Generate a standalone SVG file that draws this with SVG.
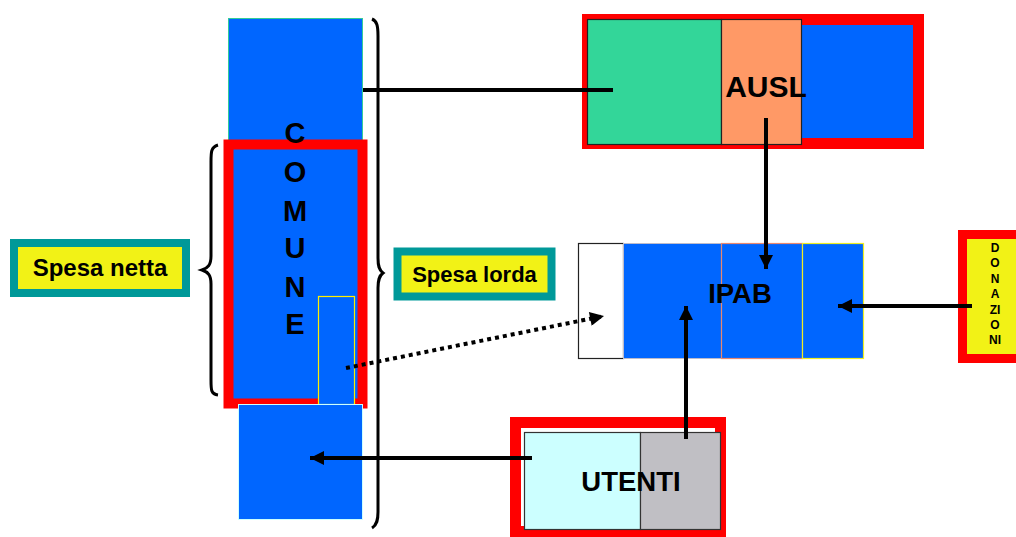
<svg xmlns="http://www.w3.org/2000/svg" width="1016" height="537" viewBox="0 0 1016 537">
<style>
.t{font-family:"Liberation Sans",Arial,sans-serif;font-weight:bold;fill:#000}
.blue{fill:#0066FF}
.ln{stroke:#000;stroke-width:4;fill:none}
.br{stroke:#000;stroke-width:3;fill:none}
.lbl{fill:#F2F216;stroke:#009999;stroke-width:8}
</style>
<defs>
<marker id="ah" viewBox="0 0 10 10" refX="10" refY="5" markerWidth="15" markerHeight="14" markerUnits="userSpaceOnUse" orient="auto">
<path d="M0,0 L10,5 L0,10 z" fill="#000"/>
</marker>
</defs>
<rect width="1016" height="537" fill="#fff"/>

<g id="comune">
<rect x="228.5" y="18.5" width="134" height="127" class="blue" stroke="#33CC99" stroke-width="1"/>
<rect x="228.5" y="144.5" width="134" height="259" class="blue" stroke="#FF0000" stroke-width="10"/>
<rect x="318.5" y="296.5" width="36" height="108" class="blue" stroke="#FFEE00" stroke-width="1.2"/>
<rect x="238.5" y="404.5" width="124" height="115" class="blue" stroke="#CCFFFF" stroke-width="1"/>
<g class="t" font-size="29" text-anchor="middle">
<text x="295" y="143">C</text>
<text x="295" y="182">O</text>
<text x="295" y="221">M</text>
<text x="295" y="258">U</text>
<text x="295" y="297">N</text>
<text x="295" y="334">E</text>
</g>
</g>

<g id="brace-netta">
<path class="br" d="M218,145 C211,147 211,152 211,162 L211,256 C211,265 208,268 202,270 C208,272 211,275 211,284 L211,380 C211,390 211,394 218,395"/>
</g>
<g id="brace-lorda">
<path class="br" d="M372,19 C377,21 378,26 378,36 L378,258 C378,266 379,270 383,273 C379,276 378,280 378,288 L378,512 C378,520 377,525 372,528"/>
</g>

<g id="spesa-netta">
<rect x="14" y="243" width="172" height="50" class="lbl"/>
<text class="t" x="100" y="276" font-size="24" text-anchor="middle">Spesa netta</text>
</g>
<g id="spesa-lorda">
<rect x="397.5" y="251.5" width="154" height="45" class="lbl" stroke-width="9"/>
<text class="t" x="474.5" y="282" font-size="22" text-anchor="middle">Spesa lorda</text>
</g>

<g id="ausl">
<rect x="587.5" y="19.5" width="331" height="124" class="blue" stroke="#FF0000" stroke-width="11"/>
<rect x="587.5" y="19.5" width="134" height="125" fill="#33D699" stroke="#222" stroke-width="1.2"/>
<rect x="721.5" y="19.5" width="80" height="125" fill="#FF9966" stroke="#222" stroke-width="1.2"/>
<text class="t" x="766" y="97" font-size="30" text-anchor="middle">AUSL</text>
</g>

<g id="ipab">
<rect x="578.5" y="243.5" width="45" height="115" fill="#fff" stroke="#222" stroke-width="1.2"/>
<rect x="623.5" y="243.5" width="98" height="115" class="blue" stroke="#BBBBCC" stroke-width="1"/>
<rect x="721.5" y="243.5" width="81" height="115" class="blue" stroke="#E88870" stroke-width="1.2"/>
<rect x="802.5" y="243.5" width="61" height="115" class="blue" stroke="#EEEE22" stroke-width="1.2"/>
<text class="t" x="740" y="303" font-size="27.5" text-anchor="middle">IPAB</text>
</g>

<g id="donazioni">
<rect x="962.5" y="234.5" width="60" height="124" fill="#F2F216" stroke="#FF0000" stroke-width="9"/>
<g class="t" font-size="12" text-anchor="middle">
<text x="995" y="252">D</text>
<text x="995" y="267">O</text>
<text x="995" y="282.5">N</text>
<text x="995" y="298">A</text>
<text x="995" y="313.5">ZI</text>
<text x="995" y="329">O</text>
<text x="995" y="344">NI</text>
</g>
</g>

<g id="utenti">
<rect x="515.5" y="422.5" width="205" height="109" fill="#fff" stroke="#FF0000" stroke-width="11"/>
<rect x="524.5" y="432.5" width="116" height="97" fill="#CCFFFF" stroke="#333" stroke-width="1.2"/>
<rect x="640.5" y="432.5" width="80" height="97" fill="#C0BFC4" stroke="#333" stroke-width="1.2"/>
<text class="t" x="631" y="491" font-size="27.5" text-anchor="middle">UTENTI</text>
</g>

<g id="connectors">
<line class="ln" x1="363" y1="90" x2="613" y2="90"/>
<line class="ln" x1="766" y1="118" x2="766" y2="269" marker-end="url(#ah)"/>
<line class="ln" x1="972" y1="306" x2="838" y2="306" marker-end="url(#ah)"/>
<line class="ln" x1="686" y1="439" x2="686" y2="306" marker-end="url(#ah)"/>
<line class="ln" x1="532" y1="458" x2="310" y2="458" marker-end="url(#ah)"/>
<line class="ln" x1="346" y1="368" x2="604" y2="316" stroke-dasharray="4 4" marker-end="url(#ah)"/>
</g>
</svg>
